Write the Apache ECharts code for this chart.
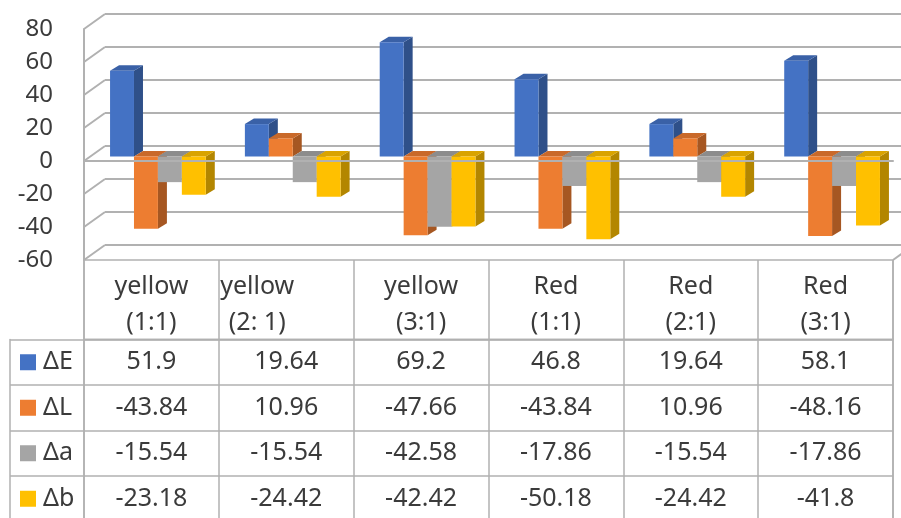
<!DOCTYPE html>
<html>
<head>
<meta charset="utf-8">
<script src="https://cdn.jsdelivr.net/npm/echarts@6/dist/echarts.min.js"></script>
<style>
  html, body { margin: 0; padding: 0; background: #ffffff; }
  #chart { width: 901px; height: 518px; }
</style>
</head>
<body>
<div id="chart"></div>
<script>
// ---- data ----
const categories = ['yellow (1:1)', 'yellow (2: 1)', 'yellow (3:1)', 'Red (1:1)', 'Red (2:1)', 'Red (3:1)'];
const seriesNames = ['ΔE', 'ΔL', 'Δa', 'Δb'];
const deltaE = [51.9, 19.64, 69.2, 46.8, 19.64, 58.1];
const deltaL = [-43.84, 10.96, -47.66, -43.84, 10.96, -48.16];
const deltaA = [-15.54, -15.54, -42.58, -17.86, -15.54, -17.86];
const deltaB = [-23.18, -24.42, -42.42, -50.18, -24.42, -41.8];
const yTicks = [-60, -40, -20, 0, 20, 40, 60, 80];

// ---- styling ----
const seriesValues = [deltaE, deltaL, deltaA, deltaB];
const faceColors = [
  { front: '#4472C4', side: '#2F5089', top: '#3A61A7' },
  { front: '#ED7D31', side: '#A65722', top: '#C9692A' },
  { front: '#A5A5A5', side: '#747474', top: '#8C8C8C' },
  { front: '#FFC000', side: '#B38600', top: '#D9A300' }
];
const FONT = '"Noto Sans", "Liberation Sans", sans-serif';
const TEXT = '#3b3b3b';
const LINE = '#B1B1B1';
const WALL = { dx: 21, dy: -15 };       // front plane -> back wall
const BAR_PLANE = { dx: 6.5, dy: -4.5 }; // front plane -> bar faces
const BAR_DEPTH = { dx: 9, dy: -5.5 };   // thickness of each column
const GROUP_RATIO = 0.71;

function renderBar(seriesIdx) {
  const colors = faceColors[seriesIdx];
  return function (params, api) {
    const c = api.value(0);
    const band = api.size([1, 0])[0];
    const group = band * GROUP_RATIO;
    const bw = group / seriesValues.length;
    const base = api.coord([c, 0]);
    const end = api.coord([c, api.value(1)]);
    const x0 = base[0] - group / 2 + seriesIdx * bw + BAR_PLANE.dx;
    const x1 = x0 + bw;
    const yTop = Math.min(base[1], end[1]) + BAR_PLANE.dy;
    const yBot = Math.max(base[1], end[1]) + BAR_PLANE.dy;
    const dx = BAR_DEPTH.dx, dy = BAR_DEPTH.dy;
    return {
      type: 'group',
      children: [
        { type: 'polygon', shape: { points: [[x1, yTop], [x1 + dx, yTop + dy], [x1 + dx, yBot + dy], [x1, yBot]] },
          style: { fill: colors.side } },
        { type: 'polygon', shape: { points: [[x0, yTop], [x0 + dx, yTop + dy], [x1 + dx, yTop + dy], [x1, yTop]] },
          style: { fill: colors.top } },
        { type: 'rect', shape: { x: x0, y: yTop, width: bw, height: yBot - yTop },
          style: { fill: colors.front } }
      ]
    };
  };
}

// side wall and floor edges joining the front plane to the back wall
function renderWallEdge(params, api) {
  const v = api.value(1);
  const p = api.coord([0, v]);
  const left = params.coordSys.x;
  const right = left + params.coordSys.width;
  const children = [
    { type: 'line', shape: { x1: left, y1: p[1], x2: left + WALL.dx, y2: p[1] + WALL.dy },
      style: { stroke: LINE, lineWidth: 2 } }
  ];
  if (v === yTicks[0]) {
    children.push({ type: 'line', shape: { x1: right, y1: p[1], x2: right + WALL.dx, y2: p[1] + WALL.dy },
      style: { stroke: LINE, lineWidth: 2 } });
  }
  return { type: 'group', children: children };
}

function renderCell(params, api) {
  const p = api.coord([api.value(0), api.value(1)]);
  return {
    type: 'text', x: p[0], y: p[1],
    style: { text: String(api.value(2)), fill: TEXT, fontSize: 25, fontFamily: FONT,
             align: 'center', verticalAlign: 'middle' }
  };
}

const legendRich = { gap: { width: 7 }, t: { fontSize: 25, fontFamily: FONT, color: TEXT, verticalAlign: 'middle' } };
faceColors.forEach((fc, i) => {
  legendRich['k' + i] = { width: 16, height: 16, backgroundColor: fc.front, verticalAlign: 'middle' };
});

const headerText = { fontSize: 25, lineHeight: 36, fontFamily: FONT, color: TEXT };

const tableData = [];
seriesValues.forEach((arr, r) => arr.forEach((v, c) => tableData.push([c, r, v])));

const tableLine = { color: LINE, width: 1.5 };

const option = {
  animation: false,
  backgroundColor: '#ffffff',
  grid: [
    { left: 84, right: 8, top: 29, height: 231, outerBoundsMode: 'none' },
    { left: 84 + WALL.dx, top: 29 + WALL.dy, width: 809, height: 231, outerBoundsMode: 'none' },
    { left: 84, right: 8, top: 260, height: 79.5, show: true, borderColor: LINE, borderWidth: 1.5, outerBoundsMode: 'none' },
    { left: 84, right: 8, top: 339.5, height: 182, show: true, borderColor: LINE, borderWidth: 1.5, outerBoundsMode: 'none' }
  ],
  xAxis: [
    { gridIndex: 0, type: 'category', data: categories, z: 5,
      axisLine: { show: true, onZero: true, lineStyle: { color: LINE, width: 2 } },
      axisTick: { show: false }, axisLabel: { show: false }, splitLine: { show: false } },
    { gridIndex: 1, type: 'category', data: categories, show: false },
    { gridIndex: 2, type: 'category', data: categories,
      axisLine: { show: false }, axisTick: { show: false }, axisLabel: { show: false },
      splitLine: { show: true, interval: 0, lineStyle: tableLine } },
    { gridIndex: 3, type: 'category', data: categories, position: 'top',
      axisLine: { show: false }, axisTick: { show: false },
      axisLabel: {
        interval: 0, margin: -1.5, hideOverlap: false,
        formatter: function (value, index) {
          const parts = value.split(' (');
          const tag = index === 1 ? 'shift' : 'n';
          return '{' + tag + '|' + parts[0] + '}\n{' + tag + '|(' + parts[1] + '}';
        },
        rich: { n: headerText, shift: Object.assign({ padding: [0, 58, 0, 0] }, headerText) }
      },
      splitLine: { show: true, interval: 0, lineStyle: tableLine } }
  ],
  yAxis: [
    { gridIndex: 0, type: 'value', min: -60, max: 80, interval: 20,
      axisLine: { show: true, lineStyle: { color: LINE, width: 2 } },
      axisTick: { show: false }, splitLine: { show: false },
      axisLabel: { margin: 31, fontSize: 24, fontFamily: FONT, color: TEXT } },
    { gridIndex: 1, type: 'value', min: -60, max: 80, interval: 20,
      axisLine: { show: false }, axisTick: { show: false }, axisLabel: { show: false },
      splitLine: { show: true, lineStyle: { color: LINE, width: 2 } } },
    { gridIndex: 2, type: 'value', show: false },
    { gridIndex: 3, type: 'category', data: seriesNames, inverse: true,
      axisLine: { show: false },
      axisTick: { show: true, interval: 0, length: 74, lineStyle: tableLine },
      axisLabel: {
        interval: 0, align: 'left', margin: 64,
        formatter: function (value, index) { return '{k' + index + '|}{gap|}{t|' + value + '}'; },
        rich: legendRich
      },
      splitLine: { show: true, interval: 0, lineStyle: tableLine } },
    { gridIndex: 3, type: 'value', position: 'left', offset: 74,
      axisLine: { show: true, lineStyle: tableLine },
      axisTick: { show: false }, axisLabel: { show: false }, splitLine: { show: false } }
  ],
  series: [
    { type: 'custom', name: 'walls', xAxisIndex: 0, yAxisIndex: 0, clip: false, silent: true, z: 1,
      data: yTicks.map(v => [0, v]), renderItem: renderWallEdge }
  ].concat(seriesValues.map((vals, i) => ({
    type: 'custom', name: seriesNames[i], xAxisIndex: 0, yAxisIndex: 0, clip: false, z: 2,
    data: vals.map((v, c) => [c, v]), renderItem: renderBar(i)
  }))).concat([
    { type: 'custom', name: 'table', xAxisIndex: 3, yAxisIndex: 3, clip: false, silent: true,
      data: tableData, renderItem: renderCell }
  ])
};

const chart = echarts.init(document.getElementById('chart'), null, { renderer: 'canvas' });
chart.setOption(option);
</script>
</body>
</html>
